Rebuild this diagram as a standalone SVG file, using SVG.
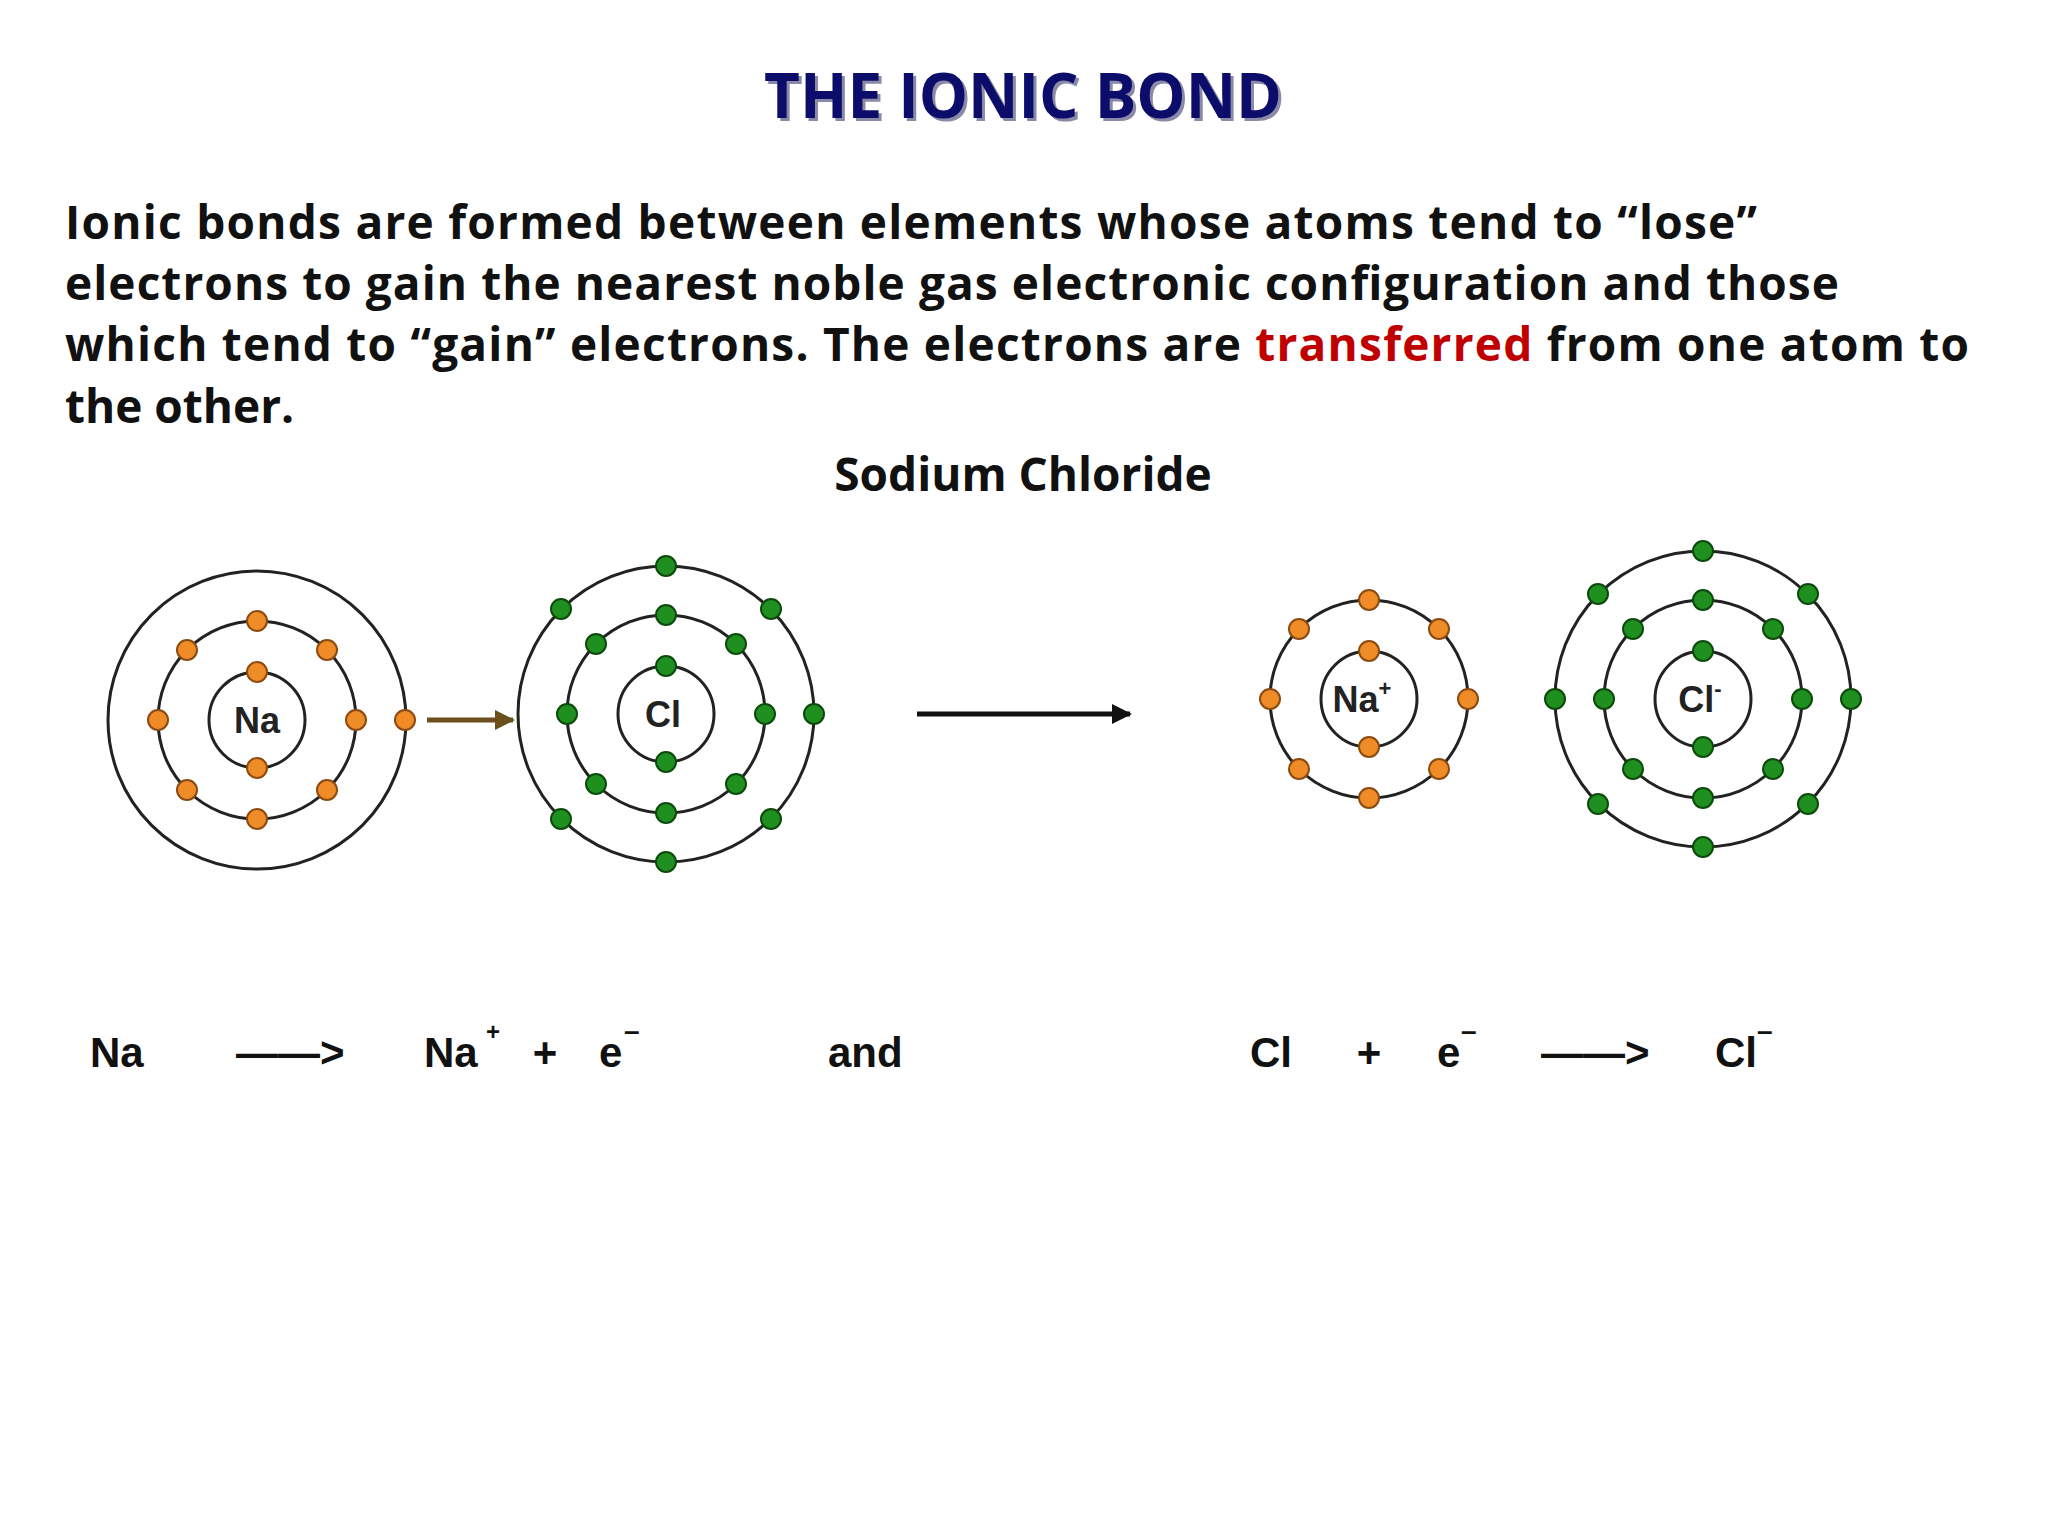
<svg xmlns="http://www.w3.org/2000/svg" width="2048" height="1536" viewBox="0 0 2048 1536">
<defs>
<style>
.t{font-family:"Open Sans","Liberation Sans",sans-serif;font-weight:bold;fill:#111}
.ring{fill:none;stroke:#222;stroke-width:3}
.o{fill:#f08c28;stroke:#8a4a10;stroke-width:2}
.g{fill:#1f8f1f;stroke:#0c4a0c;stroke-width:2}
.lbl{font-family:"Liberation Sans",Arial,sans-serif;font-weight:bold;font-size:36px;fill:#222;text-anchor:middle}
</style>
<marker id="ab" viewBox="0 0 10 10" refX="9" refY="5" markerWidth="4" markerHeight="4" orient="auto"><path d="M0,0L10,5L0,10z" fill="#6b4f1d"/></marker>
<marker id="ak" viewBox="0 0 10 10" refX="9" refY="5" markerWidth="4" markerHeight="4" orient="auto"><path d="M0,0L10,5L0,10z" fill="#111"/></marker>
<circle id="eo" r="10" class="o"/>
<circle id="eg" r="10" class="g"/>
</defs>
<rect width="2048" height="1536" fill="#fff"/>
<text x="1026" y="121" text-anchor="middle" class="t" style="font-size:62px;fill:#8a8aa8">THE IONIC BOND</text>
<text x="1023" y="118" text-anchor="middle" class="t" style="font-size:62px;fill:#0c0c6a">THE IONIC BOND</text>
<g class="t" style="font-size:46px">
<text x="65" y="239" textLength="1692" lengthAdjust="spacing">Ionic bonds are formed between elements whose atoms tend to “lose”</text>
<text x="65" y="300" textLength="1774" lengthAdjust="spacing">electrons to gain the nearest noble gas electronic configuration and those</text>
<text x="65" y="361" textLength="1904" lengthAdjust="spacing">which tend to “gain” electrons.  The electrons are <tspan fill="#c00000">transferred</tspan> from one atom to</text>
<text x="65" y="423">the other.</text>
<text x="1023" y="491" text-anchor="middle">Sodium Chloride</text>
</g>
<g id="na">
<circle cx="257" cy="720" r="149" class="ring"/><circle cx="257" cy="720" r="99" class="ring"/><circle cx="257" cy="720" r="48" class="ring"/>
<text x="257" y="733" class="lbl">Na</text>
<use href="#eo" x="257" y="672"/><use href="#eo" x="257" y="768"/>
<use href="#eo" x="356" y="720"/><use href="#eo" x="327" y="650"/><use href="#eo" x="257" y="621"/><use href="#eo" x="187" y="650"/><use href="#eo" x="158" y="720"/><use href="#eo" x="187" y="790"/><use href="#eo" x="257" y="819"/><use href="#eo" x="327" y="790"/>
<use href="#eo" x="405" y="720"/>
</g>
<g id="cl">
<circle cx="666" cy="714" r="148" class="ring"/><circle cx="666" cy="714" r="99" class="ring"/><circle cx="666" cy="714" r="48" class="ring"/>
<text x="663" y="727" class="lbl">Cl</text>
<use href="#eg" x="666" y="666"/><use href="#eg" x="666" y="762"/>
<use href="#eg" x="765" y="714"/><use href="#eg" x="736" y="644"/><use href="#eg" x="666" y="615"/><use href="#eg" x="596" y="644"/><use href="#eg" x="567" y="714"/><use href="#eg" x="596" y="784"/><use href="#eg" x="666" y="813"/><use href="#eg" x="736" y="784"/>
<use href="#eg" x="666" y="566"/><use href="#eg" x="771" y="609"/><use href="#eg" x="814" y="714"/><use href="#eg" x="771" y="819"/><use href="#eg" x="666" y="862"/><use href="#eg" x="561" y="819"/><use href="#eg" x="561" y="609"/>
</g>
<g id="nap">
<circle cx="1369" cy="699" r="99" class="ring"/><circle cx="1369" cy="699" r="48" class="ring"/>
<text x="1362" y="712" class="lbl">Na<tspan font-size="22" dy="-16">+</tspan></text>
<use href="#eo" x="1369" y="651"/><use href="#eo" x="1369" y="747"/>
<use href="#eo" x="1468" y="699"/><use href="#eo" x="1439" y="629"/><use href="#eo" x="1369" y="600"/><use href="#eo" x="1299" y="629"/><use href="#eo" x="1270" y="699"/><use href="#eo" x="1299" y="769"/><use href="#eo" x="1369" y="798"/><use href="#eo" x="1439" y="769"/>
</g>
<g id="clm">
<circle cx="1703" cy="699" r="148" class="ring"/><circle cx="1703" cy="699" r="99" class="ring"/><circle cx="1703" cy="699" r="48" class="ring"/>
<text x="1700" y="712" class="lbl">Cl<tspan font-size="22" dy="-16">-</tspan></text>
<use href="#eg" x="1703" y="651"/><use href="#eg" x="1703" y="747"/>
<use href="#eg" x="1802" y="699"/><use href="#eg" x="1773" y="629"/><use href="#eg" x="1703" y="600"/><use href="#eg" x="1633" y="629"/><use href="#eg" x="1604" y="699"/><use href="#eg" x="1633" y="769"/><use href="#eg" x="1703" y="798"/><use href="#eg" x="1773" y="769"/>
<use href="#eg" x="1703" y="551"/><use href="#eg" x="1808" y="594"/><use href="#eg" x="1851" y="699"/><use href="#eg" x="1808" y="804"/><use href="#eg" x="1703" y="847"/><use href="#eg" x="1598" y="804"/><use href="#eg" x="1555" y="699"/><use href="#eg" x="1598" y="594"/>
</g>
<g id="connectors">
<line x1="427" y1="720" x2="513" y2="720" stroke="#6b4f1d" stroke-width="5" marker-end="url(#ab)"/>
<line x1="917" y1="714" x2="1130" y2="714" stroke="#111" stroke-width="5" marker-end="url(#ak)"/>
</g>
<g class="t" style="font-size:42px;font-family:'Liberation Sans',Arial,sans-serif">
<text x="90" y="1067">Na</text>
<text x="236" y="1067">——&gt;</text>
<text x="424" y="1067">Na</text><text x="486" y="1040" font-size="24">+</text>
<text x="545" y="1067" text-anchor="middle">+</text>
<text x="599" y="1067">e</text><text x="624" y="1040" font-size="28">–</text>
<text x="828" y="1067">and</text>
<text x="1250" y="1067">Cl</text>
<text x="1369" y="1067" text-anchor="middle">+</text>
<text x="1437" y="1067">e</text><text x="1461" y="1040" font-size="28">–</text>
<text x="1541" y="1067">——&gt;</text>
<text x="1715" y="1067">Cl</text><text x="1757" y="1040" font-size="28">–</text>
</g>
</svg>
